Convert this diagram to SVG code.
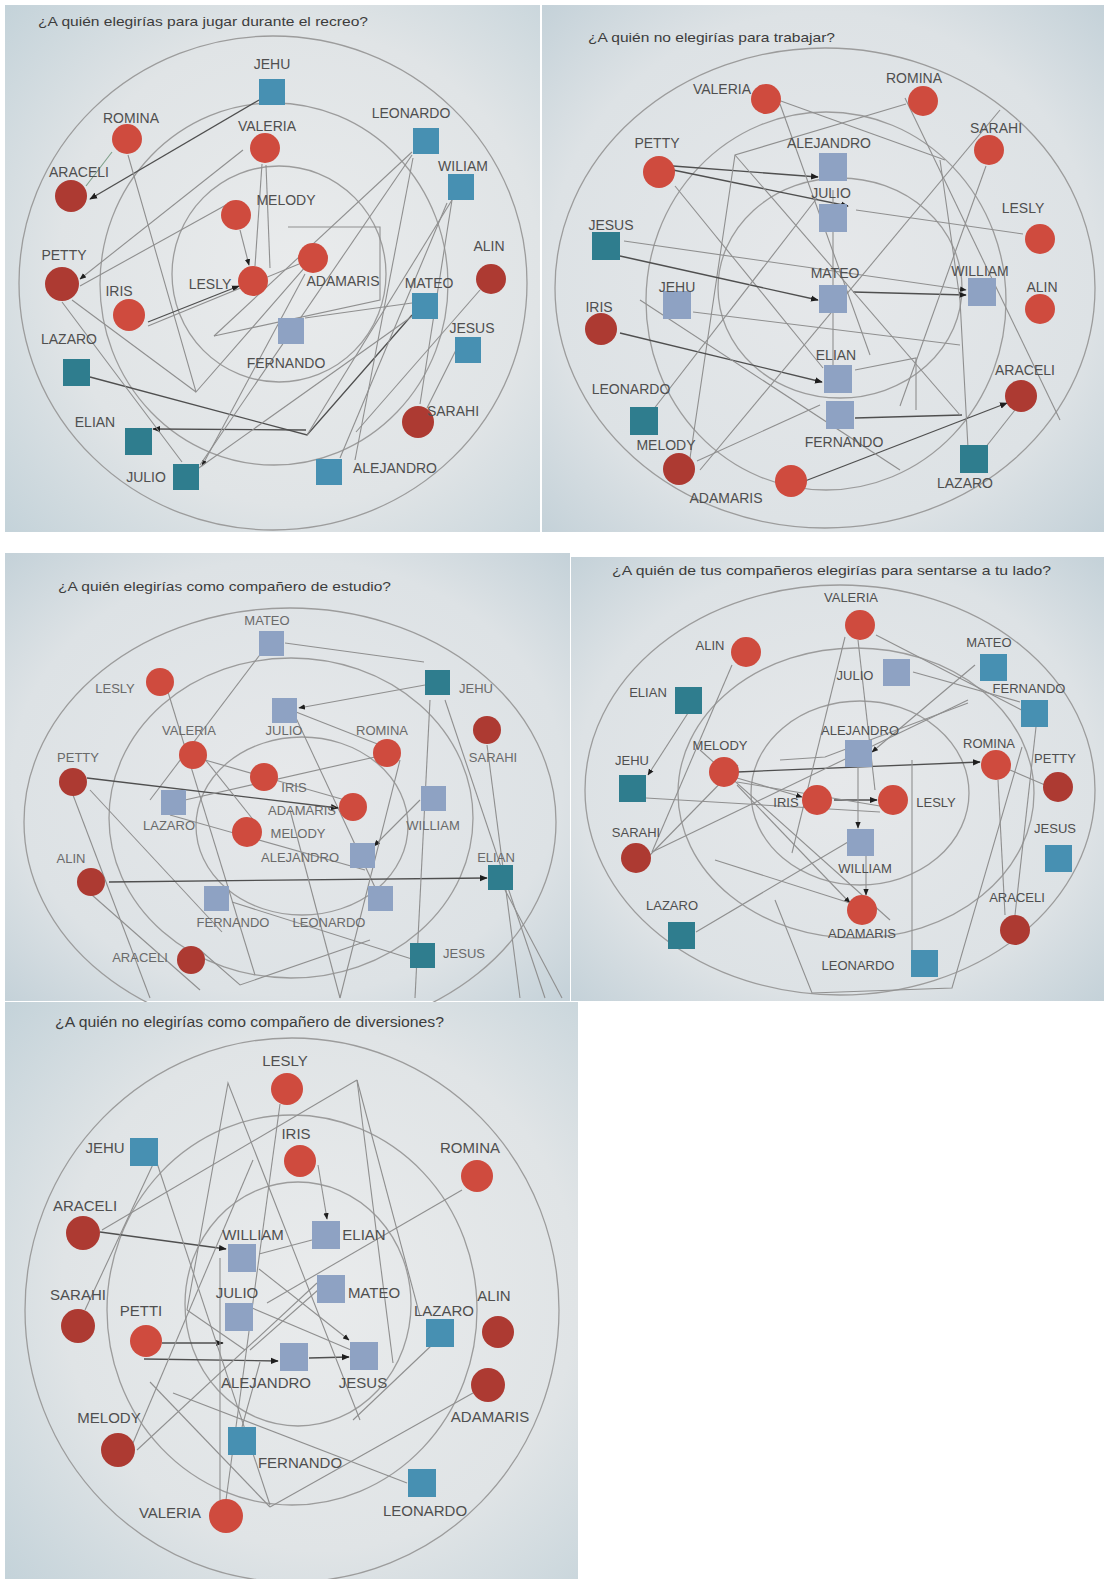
<svg xmlns="http://www.w3.org/2000/svg" width="1106" height="1579" viewBox="0 0 1106 1579">
<defs>
<radialGradient id="bgA" cx="0.55" cy="0.5" r="0.75">
<stop offset="0" stop-color="#e9ebec"/><stop offset="0.6" stop-color="#e0e4e6"/><stop offset="1" stop-color="#c3d2d9"/>
</radialGradient>
<radialGradient id="bgB" cx="0.5" cy="0.5" r="0.75">
<stop offset="0" stop-color="#e6e8ea"/><stop offset="0.65" stop-color="#dde2e5"/><stop offset="1" stop-color="#bfced6"/>
</radialGradient>
<marker id="ah" viewBox="0 0 10 10" refX="9" refY="5" markerWidth="6" markerHeight="6" orient="auto"><path d="M0,1 L10,5 L0,9 z" fill="#1e1e1e"/></marker>
<style>
.ring{fill:none;stroke:#9c9c9c;stroke-width:1.3}
.c line,.c polyline{fill:none;stroke:#8f8f8f;stroke-width:1.1}
.c .d{stroke:#4f4f4f;stroke-width:1.3}
.c .a{marker-end:url(#ah)}
.r{fill:#cf4b3e}
.rd{fill:#ad3a32}
.sb{fill:#4790b2}
.st{fill:#2f7d8e}
.sl{fill:#8ea2c3}
.lbl{font-family:"Liberation Sans",Arial,sans-serif;fill:#4f4f4f;text-anchor:middle}
.f13{font-size:13px}.f14{font-size:14px}.f15{font-size:15px}
.p3 text{fill:#6a6a6a}
.ttl{font-family:"Liberation Sans",Arial,sans-serif;font-size:13px;fill:#3c3c3c}
</style>
</defs>
<rect x="0" y="0" width="1106" height="1579" fill="#ffffff"/>

<!-- ============ PANEL 1 ============ -->
<g id="panel1">
<rect x="5" y="5" width="535" height="527" fill="url(#bgA)"/>
<text class="ttl" x="38" y="26" textLength="330" lengthAdjust="spacingAndGlyphs" fill="#2e2e2e">¿A quién elegirías para jugar durante el recreo?</text>
<ellipse class="ring" cx="273" cy="283" rx="254" ry="247"/>
<ellipse class="ring" cx="274" cy="284" rx="174" ry="181"/>
<ellipse class="ring" cx="279" cy="274" rx="107" ry="108"/>
<g id="p1-connectors" class="c">
<line class="d a" x1="259" y1="100" x2="90" y2="199"/>
<line class="a" x1="243" y1="150" x2="80" y2="279"/>
<line x1="226" y1="205" x2="80" y2="286"/>
<line x1="112" y1="152" x2="86" y2="186" style="stroke:#7fa08a"/>
<polyline points="128,155 196,392 320,250"/>
<line x1="412" y1="152" x2="214" y2="336"/>
<line class="d a" x1="148" y1="322" x2="239" y2="286"/>
<line x1="148" y1="326" x2="299" y2="264"/>
<line x1="255" y1="266" x2="262" y2="164"/>
<line class="a" x1="240" y1="230" x2="249" y2="265"/>
<line x1="72" y1="300" x2="196" y2="392"/>
<polyline class="d" points="90,377 307,435 412,315"/>
<line class="d a" x1="306" y1="430" x2="153" y2="429"/>
<line x1="307" y1="435" x2="452" y2="200"/>
<line class="a" x1="305" y1="274" x2="202" y2="466"/>
<line x1="200" y1="465" x2="412" y2="155"/>
<line x1="196" y1="470" x2="414" y2="315"/>
<line x1="412" y1="303" x2="305" y2="318"/>
<line x1="452" y1="200" x2="420" y2="404"/>
<line x1="447" y1="203" x2="340" y2="458"/>
<line x1="480" y1="290" x2="356" y2="432"/>
<polyline points="288,227 380,227 380,300 214,336"/>
<line x1="413" y1="158" x2="355" y2="460"/>
<line x1="462" y1="338" x2="427" y2="408"/>
<line x1="62" y1="302" x2="182" y2="462"/>
<line x1="266" y1="165" x2="270" y2="268"/>
</g>
<g id="p1-nodes" class="lbl f14">
<g id="p1-jehu"><rect class="sb" x="259" y="79" width="26" height="26"/><text x="272" y="69">JEHU</text></g>
<g id="p1-romina"><circle class="r" cx="127" cy="139" r="15"/><text x="131" y="123">ROMINA</text></g>
<g id="p1-valeria"><circle class="r" cx="265" cy="148" r="15"/><text x="267" y="131">VALERIA</text></g>
<g id="p1-leonardo"><rect class="sb" x="413" y="128" width="26" height="26"/><text x="411" y="118">LEONARDO</text></g>
<g id="p1-wiliam"><rect class="sb" x="448" y="174" width="26" height="26"/><text x="463" y="171">WILIAM</text></g>
<g id="p1-araceli"><circle class="rd" cx="71" cy="196" r="16"/><text x="79" y="177">ARACELI</text></g>
<g id="p1-melody"><circle class="r" cx="236" cy="215" r="15"/><text x="286" y="205">MELODY</text></g>
<g id="p1-alin"><circle class="rd" cx="491" cy="279" r="15"/><text x="489" y="251">ALIN</text></g>
<g id="p1-petty"><circle class="rd" cx="62" cy="284" r="17"/><text x="64" y="260">PETTY</text></g>
<g id="p1-iris"><circle class="r" cx="129" cy="315" r="16"/><text x="119" y="296">IRIS</text></g>
<g id="p1-lesly"><circle class="r" cx="253" cy="281" r="15"/><text x="210" y="289">LESLY</text></g>
<g id="p1-adamaris"><circle class="r" cx="313" cy="258" r="15"/><text x="343" y="286">ADAMARIS</text></g>
<g id="p1-mateo"><rect class="sb" x="412" y="293" width="26" height="26"/><text x="429" y="288">MATEO</text></g>
<g id="p1-jesus"><rect class="sb" x="455" y="337" width="26" height="26"/><text x="472" y="333">JESUS</text></g>
<g id="p1-fernando"><rect class="sl" x="278" y="318" width="26" height="26"/><text x="286" y="368">FERNANDO</text></g>
<g id="p1-lazaro"><rect class="st" x="63" y="359" width="27" height="27"/><text x="69" y="344">LAZARO</text></g>
<g id="p1-sarahi"><circle class="rd" cx="418" cy="422" r="16"/><text x="453" y="416">SARAHI</text></g>
<g id="p1-elian"><rect class="st" x="125" y="428" width="27" height="27"/><text x="95" y="427">ELIAN</text></g>
<g id="p1-julio"><rect class="st" x="173" y="464" width="26" height="26"/><text x="146" y="482">JULIO</text></g>
<g id="p1-alejandro"><rect class="sb" x="316" y="459" width="26" height="26"/><text x="395" y="473">ALEJANDRO</text></g>
</g>
</g>

<!-- ============ PANEL 2 ============ -->
<g id="panel2">
<rect x="542" y="5" width="562" height="527" fill="url(#bgB)"/>
<text class="ttl" x="588" y="42" textLength="247" lengthAdjust="spacingAndGlyphs" fill="#4a4a4a">¿A quién no elegirías para trabajar?</text>
<ellipse class="ring" cx="825" cy="288" rx="270" ry="240"/>
<ellipse class="ring" cx="826" cy="301" rx="180" ry="189"/>
<ellipse class="ring" cx="840" cy="288" rx="122" ry="110"/>
<g id="p2-connectors" class="c">
<line class="d a" x1="673" y1="166" x2="818" y2="177"/>
<line class="d a" x1="673" y1="170" x2="848" y2="206"/>
<line x1="675" y1="186" x2="823" y2="368"/>
<polyline points="906,104 735,155 690,458"/>
<line x1="780" y1="104" x2="870" y2="355"/>
<line x1="778" y1="100" x2="945" y2="160"/>
<line class="a" x1="624" y1="241" x2="966" y2="290"/>
<line class="d a" x1="620" y1="256" x2="818" y2="300"/>
<line x1="856" y1="210" x2="1023" y2="234"/>
<line x1="693" y1="312" x2="960" y2="345"/>
<line class="d a" x1="620" y1="333" x2="822" y2="382"/>
<line class="d a" x1="853" y1="292" x2="966" y2="295"/>
<line class="d" x1="855" y1="418" x2="962" y2="415"/>
<line class="d a" x1="805" y1="481" x2="1007" y2="403"/>
<line x1="697" y1="461" x2="820" y2="405"/>
<line x1="653" y1="410" x2="817" y2="198"/>
<polyline points="968,448 960,300 940,160"/>
<line x1="833" y1="190" x2="833" y2="365"/>
<polyline points="855,370 916,358 916,410"/>
<line x1="735" y1="155" x2="960" y2="415"/>
<line x1="1000" y1="110" x2="700" y2="470"/>
<line x1="640" y1="300" x2="900" y2="470"/>
<line x1="1015" y1="410" x2="985" y2="448"/>
<line x1="986" y1="166" x2="900" y2="406"/>
<line x1="905" y1="98" x2="1060" y2="420"/>
</g>
<g id="p2-nodes" class="lbl f14">
<g id="p2-valeria"><circle class="r" cx="766" cy="99" r="15"/><text x="722" y="94">VALERIA</text></g>
<g id="p2-romina"><circle class="r" cx="923" cy="101" r="15"/><text x="914" y="83">ROMINA</text></g>
<g id="p2-sarahi"><circle class="r" cx="989" cy="150" r="15"/><text x="996" y="133">SARAHI</text></g>
<g id="p2-petty"><circle class="r" cx="659" cy="172" r="16"/><text x="657" y="148">PETTY</text></g>
<g id="p2-alejandro"><rect class="sl" x="819" y="153" width="28" height="28"/><text x="829" y="148">ALEJANDRO</text></g>
<g id="p2-julio"><rect class="sl" x="819" y="204" width="28" height="28"/><text x="831" y="198">JULIO</text></g>
<g id="p2-lesly"><circle class="r" cx="1040" cy="239" r="15"/><text x="1023" y="213">LESLY</text></g>
<g id="p2-jesus"><rect class="st" x="592" y="232" width="28" height="28"/><text x="611" y="230">JESUS</text></g>
<g id="p2-mateo"><rect class="sl" x="819" y="285" width="28" height="28"/><text x="835" y="278">MATEO</text></g>
<g id="p2-william"><rect class="sl" x="968" y="278" width="28" height="28"/><text x="980" y="276">WILLIAM</text></g>
<g id="p2-alin"><circle class="r" cx="1040" cy="309" r="15"/><text x="1042" y="292">ALIN</text></g>
<g id="p2-jehu"><rect class="sl" x="663" y="291" width="28" height="28"/><text x="677" y="292">JEHU</text></g>
<g id="p2-iris"><circle class="rd" cx="601" cy="329" r="16"/><text x="599" y="312">IRIS</text></g>
<g id="p2-elian"><rect class="sl" x="824" y="365" width="28" height="28"/><text x="836" y="360">ELIAN</text></g>
<g id="p2-araceli"><circle class="rd" cx="1021" cy="396" r="16"/><text x="1025" y="375">ARACELI</text></g>
<g id="p2-leonardo"><rect class="st" x="630" y="407" width="28" height="28"/><text x="631" y="394">LEONARDO</text></g>
<g id="p2-fernando"><rect class="sl" x="826" y="401" width="28" height="28"/><text x="844" y="447">FERNANDO</text></g>
<g id="p2-melody"><circle class="rd" cx="679" cy="469" r="16"/><text x="666" y="450">MELODY</text></g>
<g id="p2-lazaro"><rect class="st" x="960" y="445" width="28" height="28"/><text x="965" y="488">LAZARO</text></g>
<g id="p2-adamaris"><circle class="r" cx="791" cy="481" r="16"/><text x="726" y="503">ADAMARIS</text></g>
</g>
</g>

<!-- ============ PANEL 3 ============ -->
<g id="panel3">
<rect x="5" y="553" width="565" height="448" fill="url(#bgB)"/>
<text class="ttl" x="58" y="591" textLength="333" lengthAdjust="spacingAndGlyphs" fill="#7a7a7a">¿A quién elegirías como compañero de estudio?</text>
<ellipse class="ring" cx="290" cy="822" rx="266" ry="214"/>
<ellipse class="ring" cx="291" cy="818" rx="182" ry="160"/>
<ellipse class="ring" cx="302" cy="826" rx="106" ry="89"/>
<g id="p3-connectors" class="c">
<line x1="285" y1="643" x2="424" y2="662"/>
<line x1="262" y1="652" x2="150" y2="800"/>
<line x1="168" y1="692" x2="255" y2="975"/>
<line class="a" x1="425" y1="685" x2="299" y2="708"/>
<line x1="296" y1="718" x2="380" y2="898"/>
<line class="d a" x1="87" y1="778" x2="338" y2="808"/>
<line x1="90" y1="790" x2="222" y2="932"/>
<line class="d a" x1="109" y1="882" x2="487" y2="878"/>
<line x1="92" y1="895" x2="200" y2="990"/>
<line x1="204" y1="758" x2="255" y2="822"/>
<line x1="375" y1="757" x2="185" y2="800"/>
<line class="a" x1="420" y1="800" x2="374" y2="846"/>
<line x1="232" y1="902" x2="415" y2="960"/>
<line x1="430" y1="700" x2="415" y2="998"/>
<line x1="445" y1="700" x2="545" y2="998"/>
<line x1="487" y1="745" x2="520" y2="998"/>
<polyline points="200,950 240,985 370,940"/>
<line x1="290" y1="810" x2="340" y2="998"/>
<line x1="296" y1="712" x2="380" y2="745"/>
<line x1="205" y1="760" x2="345" y2="800"/>
<line x1="73" y1="795" x2="150" y2="998"/>
<line x1="170" y1="815" x2="365" y2="870"/>
<line x1="400" y1="760" x2="340" y2="998"/>
<line x1="505" y1="890" x2="562" y2="998"/>
</g>
<g id="p3-nodes" class="lbl f13 p3">
<g id="p3-mateo"><rect class="sl" x="259" y="631" width="25" height="25"/><text x="267" y="625">MATEO</text></g>
<g id="p3-lesly"><circle class="r" cx="160" cy="682" r="14"/><text x="115" y="693">LESLY</text></g>
<g id="p3-jehu"><rect class="st" x="425" y="670" width="25" height="25"/><text x="476" y="693">JEHU</text></g>
<g id="p3-julio"><rect class="sl" x="272" y="698" width="25" height="25"/><text x="284" y="735">JULIO</text></g>
<g id="p3-valeria"><circle class="r" cx="193" cy="755" r="14"/><text x="189" y="735">VALERIA</text></g>
<g id="p3-romina"><circle class="r" cx="387" cy="753" r="14"/><text x="382" y="735">ROMINA</text></g>
<g id="p3-sarahi"><circle class="rd" cx="487" cy="730" r="14"/><text x="493" y="762">SARAHI</text></g>
<g id="p3-petty"><circle class="rd" cx="73" cy="782" r="14"/><text x="78" y="762">PETTY</text></g>
<g id="p3-iris"><circle class="r" cx="264" cy="777" r="14"/><text x="294" y="792">IRIS</text></g>
<g id="p3-lazaro"><rect class="sl" x="161" y="790" width="25" height="25"/><text x="169" y="830">LAZARO</text></g>
<g id="p3-adamaris"><circle class="r" cx="353" cy="807" r="14"/><text x="302" y="815">ADAMARIS</text></g>
<g id="p3-william"><rect class="sl" x="421" y="786" width="25" height="25"/><text x="433" y="830">WILLIAM</text></g>
<g id="p3-melody"><circle class="r" cx="247" cy="832" r="15"/><text x="298" y="838">MELODY</text></g>
<g id="p3-alejandro"><rect class="sl" x="350" y="843" width="25" height="25"/><text x="300" y="862">ALEJANDRO</text></g>
<g id="p3-alin"><circle class="rd" cx="91" cy="882" r="14"/><text x="71" y="863">ALIN</text></g>
<g id="p3-elian"><rect class="st" x="488" y="865" width="25" height="25"/><text x="496" y="862">ELIAN</text></g>
<g id="p3-fernando"><rect class="sl" x="204" y="886" width="25" height="25"/><text x="233" y="927">FERNANDO</text></g>
<g id="p3-leonardo"><rect class="sl" x="368" y="886" width="25" height="25"/><text x="329" y="927">LEONARDO</text></g>
<g id="p3-araceli"><circle class="rd" cx="191" cy="960" r="14"/><text x="140" y="962">ARACELI</text></g>
<g id="p3-jesus"><rect class="st" x="410" y="943" width="25" height="25"/><text x="464" y="958">JESUS</text></g>
</g>
</g>

<!-- ============ PANEL 4 ============ -->
<g id="panel4">
<rect x="571" y="557" width="533" height="444" fill="url(#bgB)"/>
<text class="ttl" x="612" y="575" textLength="439" lengthAdjust="spacingAndGlyphs" fill="#5a5a5a">¿A quién de tus compañeros elegirías para sentarse a tu lado?</text>
<ellipse class="ring" cx="840" cy="790" rx="255" ry="205"/>
<ellipse class="ring" cx="856" cy="793" rx="178" ry="145"/>
<ellipse class="ring" cx="860" cy="793" rx="109" ry="92"/>
<g id="p4-connectors" class="c">
<line class="d a" x1="737" y1="772" x2="980" y2="762"/>
<line class="a" x1="737" y1="778" x2="802" y2="797"/>
<line class="d a" x1="834" y1="800" x2="877" y2="800"/>
<line x1="737" y1="782" x2="880" y2="806"/>
<line x1="646" y1="798" x2="880" y2="812"/>
<line x1="732" y1="665" x2="652" y2="852"/>
<line class="a" x1="688" y1="713" x2="648" y2="775"/>
<line x1="650" y1="855" x2="738" y2="765"/>
<line x1="696" y1="932" x2="848" y2="842"/>
<line class="a" x1="858" y1="766" x2="858" y2="828"/>
<line class="a" x1="866" y1="856" x2="866" y2="895"/>
<line x1="845" y1="637" x2="792" y2="853"/>
<line x1="858" y1="640" x2="875" y2="790"/>
<line x1="876" y1="635" x2="1037" y2="718"/>
<line x1="913" y1="672" x2="1020" y2="702"/>
<line x1="998" y1="780" x2="1005" y2="915"/>
<line x1="1045" y1="785" x2="1010" y2="770"/>
<line x1="1015" y1="915" x2="1036" y2="727"/>
<polyline points="775,900 812,993 952,988 1022,747"/>
<line class="a" x1="975" y1="665" x2="872" y2="752"/>
<line x1="652" y1="852" x2="968" y2="700"/>
<line class="a" x1="737" y1="785" x2="850" y2="903"/>
<line x1="912" y1="760" x2="912" y2="953"/>
<polyline points="715,860 850,903"/>
<polyline points="968,703 825,757 780,760"/>
<line x1="700" y1="750" x2="890" y2="920"/>
</g>
<g id="p4-nodes" class="lbl f13">
<g id="p4-valeria"><circle class="r" cx="860" cy="625" r="15"/><text x="851" y="602">VALERIA</text></g>
<g id="p4-alin"><circle class="r" cx="746" cy="652" r="15"/><text x="710" y="650">ALIN</text></g>
<g id="p4-mateo"><rect class="sb" x="980" y="654" width="27" height="27"/><text x="989" y="647">MATEO</text></g>
<g id="p4-julio"><rect class="sl" x="883" y="659" width="27" height="27"/><text x="855" y="680">JULIO</text></g>
<g id="p4-elian"><rect class="st" x="675" y="687" width="27" height="27"/><text x="648" y="697">ELIAN</text></g>
<g id="p4-fernando"><rect class="sb" x="1021" y="700" width="27" height="27"/><text x="1029" y="693">FERNANDO</text></g>
<g id="p4-alejandro"><rect class="sl" x="845" y="740" width="27" height="27"/><text x="860" y="735">ALEJANDRO</text></g>
<g id="p4-melody"><circle class="r" cx="724" cy="772" r="15"/><text x="720" y="750">MELODY</text></g>
<g id="p4-romina"><circle class="r" cx="996" cy="765" r="15"/><text x="989" y="748">ROMINA</text></g>
<g id="p4-petty"><circle class="rd" cx="1058" cy="787" r="15"/><text x="1055" y="763">PETTY</text></g>
<g id="p4-jehu"><rect class="st" x="619" y="775" width="27" height="27"/><text x="632" y="765">JEHU</text></g>
<g id="p4-iris"><circle class="r" cx="817" cy="800" r="15"/><text x="786" y="807">IRIS</text></g>
<g id="p4-lesly"><circle class="r" cx="893" cy="800" r="15"/><text x="936" y="807">LESLY</text></g>
<g id="p4-sarahi"><circle class="rd" cx="636" cy="858" r="15"/><text x="636" y="837">SARAHI</text></g>
<g id="p4-jesus"><rect class="sb" x="1045" y="845" width="27" height="27"/><text x="1055" y="833">JESUS</text></g>
<g id="p4-william"><rect class="sl" x="847" y="829" width="27" height="27"/><text x="865" y="873">WILLIAM</text></g>
<g id="p4-lazaro"><rect class="st" x="668" y="922" width="27" height="27"/><text x="672" y="910">LAZARO</text></g>
<g id="p4-adamaris"><circle class="r" cx="862" cy="910" r="15"/><text x="862" y="938">ADAMARIS</text></g>
<g id="p4-araceli"><circle class="rd" cx="1015" cy="930" r="15"/><text x="1017" y="902">ARACELI</text></g>
<g id="p4-leonardo"><rect class="sb" x="911" y="950" width="27" height="27"/><text x="858" y="970">LEONARDO</text></g>
</g>
</g>

<!-- ============ PANEL 5 ============ -->
<g id="panel5">
<rect x="5" y="1002" width="573" height="577" fill="url(#bgA)"/>
<text class="ttl" x="55" y="1027" textLength="389" lengthAdjust="spacingAndGlyphs" style="font-size:14px" fill="#474747">¿A quién no elegirías como compañero de diversiones?</text>
<ellipse class="ring" cx="292" cy="1310" rx="267" ry="272"/>
<ellipse class="ring" cx="292" cy="1310" rx="185" ry="195"/>
<ellipse class="ring" cx="298" cy="1304" rx="113" ry="122"/>
<g id="p5-connectors" class="c">
<line class="d a" x1="100" y1="1232" x2="226" y2="1249"/>
<line x1="102" y1="1230" x2="357" y2="1080"/>
<line x1="259" y1="1254" x2="312" y2="1240"/>
<line class="a" x1="259" y1="1269" x2="349" y2="1340"/>
<line x1="252" y1="1308" x2="351" y2="1350"/>
<line class="d a" x1="162" y1="1343" x2="223" y2="1343"/>
<line class="d a" x1="144" y1="1359" x2="278" y2="1361"/>
<line class="d a" x1="309" y1="1358" x2="349" y2="1357"/>
<line class="a" x1="318" y1="1165" x2="327" y2="1219"/>
<line x1="318" y1="1290" x2="250" y2="1350"/>
<line x1="462" y1="1190" x2="267" y2="1303"/>
<polyline points="187,1310 228,1083 360,1420"/>
<line x1="357" y1="1080" x2="420" y2="1316"/>
<line x1="357" y1="1080" x2="393" y2="1363"/>
<line x1="226" y1="1500" x2="280" y2="1104"/>
<line x1="220" y1="1500" x2="220" y2="1258"/>
<line x1="133" y1="1443" x2="253" y2="1160"/>
<line x1="137" y1="1450" x2="317" y2="1283"/>
<line x1="85" y1="1310" x2="155" y2="1160"/>
<line x1="173" y1="1393" x2="407" y2="1483"/>
<line x1="473" y1="1393" x2="270" y2="1507"/>
<line x1="432" y1="1345" x2="353" y2="1420"/>
<line x1="270" y1="1507" x2="150" y2="1382"/>
<line x1="242" y1="1427" x2="260" y2="1362"/>
<line x1="156" y1="1160" x2="270" y2="1505"/>
<polyline points="187,1310 245,1350"/>
</g>
<g id="p5-nodes" class="lbl f15">
<g id="p5-lesly"><circle class="r" cx="287" cy="1089" r="16"/><text x="285" y="1066">LESLY</text></g>
<g id="p5-iris"><circle class="r" cx="300" cy="1161" r="16"/><text x="296" y="1139">IRIS</text></g>
<g id="p5-jehu"><rect class="sb" x="130" y="1138" width="28" height="28"/><text x="105" y="1153">JEHU</text></g>
<g id="p5-romina"><circle class="r" cx="477" cy="1176" r="16"/><text x="470" y="1153">ROMINA</text></g>
<g id="p5-araceli"><circle class="rd" cx="83" cy="1233" r="17"/><text x="85" y="1211">ARACELI</text></g>
<g id="p5-william"><rect class="sl" x="228" y="1244" width="28" height="28"/><text x="253" y="1240">WILLIAM</text></g>
<g id="p5-elian"><rect class="sl" x="312" y="1221" width="28" height="28"/><text x="364" y="1240">ELIAN</text></g>
<g id="p5-sarahi"><circle class="rd" cx="78" cy="1326" r="17"/><text x="78" y="1300">SARAHI</text></g>
<g id="p5-julio"><rect class="sl" x="225" y="1303" width="28" height="28"/><text x="237" y="1298">JULIO</text></g>
<g id="p5-mateo"><rect class="sl" x="317" y="1275" width="28" height="28"/><text x="374" y="1298">MATEO</text></g>
<g id="p5-petti"><circle class="r" cx="146" cy="1341" r="16"/><text x="141" y="1316">PETTI</text></g>
<g id="p5-lazaro"><rect class="sb" x="426" y="1319" width="28" height="28"/><text x="444" y="1316">LAZARO</text></g>
<g id="p5-alin"><circle class="rd" cx="498" cy="1332" r="16"/><text x="494" y="1301">ALIN</text></g>
<g id="p5-alejandro"><rect class="sl" x="280" y="1343" width="28" height="28"/><text x="266" y="1388">ALEJANDRO</text></g>
<g id="p5-jesus"><rect class="sl" x="350" y="1342" width="28" height="28"/><text x="363" y="1388">JESUS</text></g>
<g id="p5-adamaris"><circle class="rd" cx="488" cy="1385" r="17"/><text x="490" y="1422">ADAMARIS</text></g>
<g id="p5-melody"><circle class="rd" cx="118" cy="1450" r="17"/><text x="109" y="1423">MELODY</text></g>
<g id="p5-fernando"><rect class="sb" x="228" y="1427" width="28" height="28"/><text x="300" y="1468">FERNANDO</text></g>
<g id="p5-leonardo"><rect class="sb" x="408" y="1469" width="28" height="28"/><text x="425" y="1516">LEONARDO</text></g>
<g id="p5-valeria"><circle class="r" cx="226" cy="1516" r="17"/><text x="170" y="1518">VALERIA</text></g>
</g>
</g>
</svg>
